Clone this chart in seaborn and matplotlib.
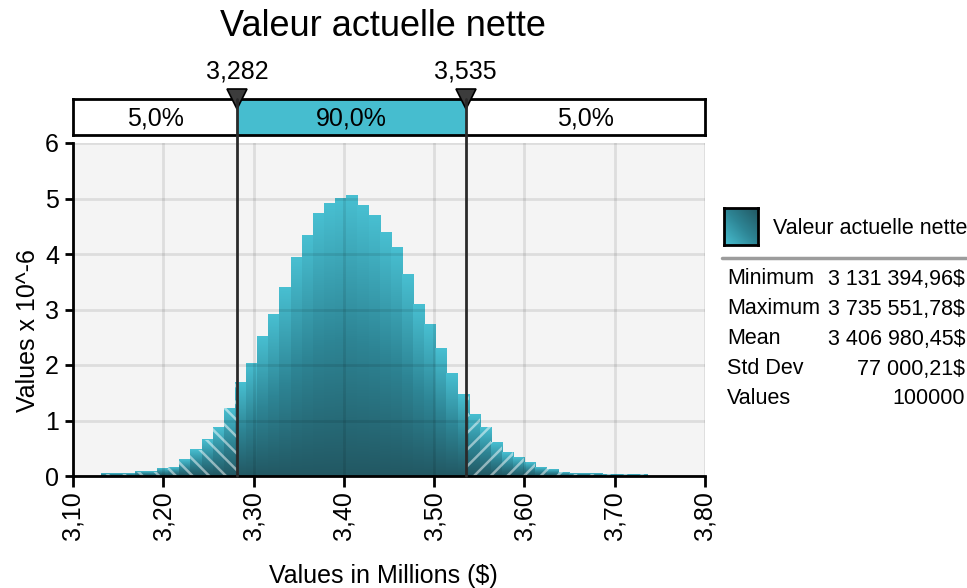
import numpy as np
import pandas as pd
import matplotlib.pyplot as plt
import matplotlib.transforms as mtransforms
from matplotlib.colors import LinearSegmentedColormap
from matplotlib.patches import Rectangle
from matplotlib.lines import Line2D
import seaborn as sns

# simulation summary
sim_min = 3.13139496
sim_max = 3.73555178
n_bins = 49
p5, p95 = 3.282, 3.535

# density of each bin, in units of 10^-6
densities = [0.04, 0.04, 0.04, 0.08, 0.08, 0.13, 0.16, 0.30, 0.47, 0.65, 0.88, 1.22,
             1.68, 2.03, 2.52, 2.91, 3.40, 3.94, 4.33, 4.73, 4.91, 5.00, 5.05,
             4.87, 4.69, 4.39, 4.12, 3.63, 3.09, 2.73, 2.30, 1.85, 1.46,
             1.10, 0.88, 0.61, 0.43, 0.34, 0.25, 0.16, 0.12, 0.07,
             0.04, 0.04, 0.04, 0.03, 0.03, 0.03, 0.03]

band_labels = ['5,0%', '90,0%', '5,0%']
marker_labels = ['3,282', '3,535']
x_ticks = [3.1, 3.2, 3.3, 3.4, 3.5, 3.6, 3.7, 3.8]
x_tick_labels = ['3,10', '3,20', '3,30', '3,40', '3,50', '3,60', '3,70', '3,80']
y_ticks = [0, 1, 2, 3, 4, 5, 6]
stat_names = ['Minimum', 'Maximum', 'Mean', 'Std Dev', 'Values']
stat_values = ['3 131 394,96$', '3 735 551,78$', '3 406 980,45$', '77 000,21$', '100000']

edges = np.linspace(sim_min, sim_max, n_bins + 1)
df = pd.DataFrame({'value': (edges[:-1] + edges[1:]) / 2, 'density': densities})

sns.set_style('white')
plt.rcParams['font.family'] = ['Liberation Sans', 'DejaVu Sans']
plt.rcParams['hatch.linewidth'] = 1.8
for key in ['text.color', 'axes.labelcolor', 'xtick.color', 'ytick.color']:
    plt.rcParams[key] = 'black'

LIGHT = '#46BDCF'
teal = LinearSegmentedColormap.from_list('teal', ['#225863', '#2E8696', '#48BFD1'])

W, H = 967, 588
fig = plt.figure(figsize=(W / 100, H / 100), dpi=100)

def fx(px):
    return px / W

def fy(py):
    return 1 - py / H

# main histogram axes
ax = fig.add_axes([fx(73), fy(476), fx(632), 333 / H])
ax.set_facecolor('#F4F4F4')
sns.histplot(data=df, x='value', weights='density', bins=list(edges), stat='count', ax=ax,
             color=LIGHT, alpha=1, linewidth=0, zorder=1)
bars = list(ax.patches)
grad = np.linspace(0, 1, 128).reshape(-1, 1)
for b in bars:
    x0, w, h = b.get_x(), b.get_width(), b.get_height()
    ax.imshow(grad, cmap=teal, origin='lower', aspect='auto',
              extent=[x0, x0 + w * 1.002, 0, h], zorder=1.2, interpolation='bilinear')

# hatched tails
for lo, hi, hatch in [(3.0, p5, '\\\\'), (p95, 4.0, '//')]:
    n0 = len(ax.patches)
    sns.histplot(data=df, x='value', weights='density', bins=list(edges), stat='count', ax=ax,
                 fill=True, facecolor='none', edgecolor=(1, 1, 1, 0.5),
                 linewidth=0, hatch=hatch, zorder=1.5)
    clip = Rectangle((lo, 0), hi - lo, 10, transform=ax.transData)
    for p in ax.patches[n0:]:
        p.set_clip_path(clip)

ax.set_xlim(3.1, 3.8)
ax.set_ylim(0, 6)
ax.set_axisbelow(False)
ax.grid(True, color='black', alpha=0.09, linewidth=2)
ax.set_xticks(x_ticks, labels=x_tick_labels, rotation=90)
ax.set_yticks(y_ticks)
ax.tick_params(axis='x', length=8, width=2, pad=3, labelsize=18, bottom=True)
ax.tick_params(axis='y', length=6, width=2, pad=4, labelsize=18, left=True)
for side in ['top', 'right']:
    ax.spines[side].set_visible(False)
for side in ['left', 'bottom']:
    ax.spines[side].set_color('black')
    ax.spines[side].set_linewidth(2)
ax.set_xlabel('Values in Millions ($)', fontsize=18)
ax.set_ylabel('Values x 10^-6', fontsize=18)
ax.xaxis.set_label_coords((383 - 73) / 632, (476 - 564) / 333)
ax.yaxis.set_label_coords((40 - 73) / 632, (476 - 331) / 333)

# percentile band above the plot
axb = fig.add_axes([fx(73), fy(135), fx(632), 36 / H])
axb.set_xlim(3.1, 3.8)
axb.set_ylim(0, 1)
axb.axvspan(p5, p95, color=LIGHT, zorder=0)
axb.set_xticks([])
axb.set_yticks([])
for s in axb.spines.values():
    s.set_color('black')
    s.set_linewidth(2)
seg_bounds = [3.1, p5, p95, 3.8]
for i, lab in enumerate(band_labels):
    axb.text((seg_bounds[i] + seg_bounds[i + 1]) / 2, 0.45, lab,
             ha='center', va='center', fontsize=18)
axb.plot([p5, p95], [1, 1], linestyle='none', marker='v', markersize=15,
         color='#3C3C3C', markeredgecolor='black', markeredgewidth=1.2,
         clip_on=False, zorder=5)
for xv, lab in zip([p5, p95], marker_labels):
    axb.text(xv, 1 + (99 - 72) / 36, lab, ha='center', va='center', fontsize=18)

# delimiter lines running from the band down to the x axis
blend = mtransforms.blended_transform_factory(ax.transData, fig.transFigure)
for xv in [p5, p95]:
    fig.add_artist(Line2D([xv, xv], [fy(99), fy(476)], transform=blend,
                          color='#2A2A2A', linewidth=2, zorder=4))

fig.text(fx(383), fy(26), 'Valeur actuelle nette', ha='center', va='center', fontsize=26)

# legend and statistics on the right
axl = fig.add_axes([fx(724), fy(245), fx(34), 37 / H])
gx, gy = np.meshgrid(np.linspace(0, 1, 32), np.linspace(0, 1, 32))
axl.imshow((gx + (1 - gy)) / 2, cmap=teal.reversed(), aspect='auto', origin='upper')
axl.set_xticks([])
axl.set_yticks([])
for s in axl.spines.values():
    s.set_color('black')
    s.set_linewidth(2)
fig.text(fx(773), fy(228), 'Valeur actuelle nette', ha='left', va='center', fontsize=15.5)
fig.add_artist(Line2D([fx(722), fx(966)], [fy(258), fy(258)], color='#9C9C9C', linewidth=2.5))
for i, (name, val) in enumerate(zip(stat_names, stat_values)):
    yy = fy(279 + 30 * i)
    fig.text(fx(727), yy, name, ha='left', va='center', fontsize=15.5)
    fig.text(fx(965), yy, val, ha='right', va='center', fontsize=15.5)

fig.savefig('out.png', dpi=100)
